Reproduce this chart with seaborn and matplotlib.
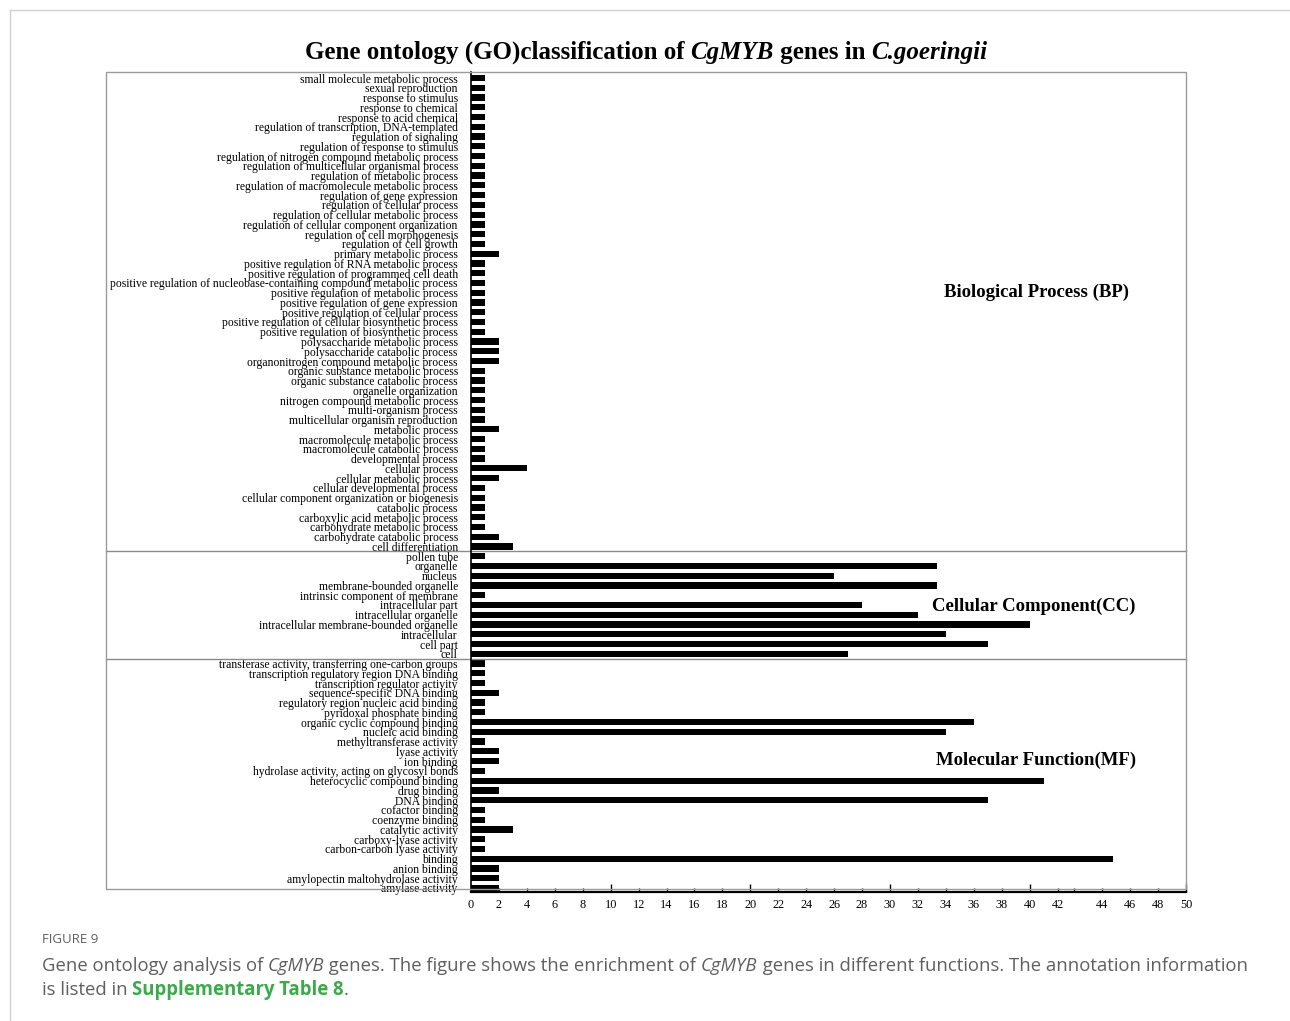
import matplotlib
matplotlib.use("Agg")
import matplotlib.pyplot as plt
import seaborn as sns
import pandas as pd
from matplotlib.lines import Line2D
from matplotlib.patches import Rectangle
from matplotlib.transforms import blended_transform_factory

# ---------------- data ----------------
bp_terms = [
    "small molecule metabolic process", "sexual reproduction", "response to stimulus",
    "response to chemical", "response to acid chemical",
    "regulation of transcription, DNA-templated", "regulation of signaling",
    "regulation of response to stimulus", "regulation of nitrogen compound metabolic process",
    "regulation of multicellular organismal process", "regulation of metabolic process",
    "regulation of macromolecule metabolic process", "regulation of gene expression",
    "regulation of cellular process", "regulation of cellular metabolic process",
    "regulation of cellular component organization", "regulation of cell morphogenesis",
    "regulation of cell growth", "primary metabolic process",
    "positive regulation of RNA metabolic process",
    "positive regulation of programmed cell death",
    "positive regulation of nucleobase-containing compound metabolic process",
    "positive regulation of metabolic process", "positive regulation of gene expression",
    "positive regulation of cellular process",
    "positive regulation of cellular biosynthetic process",
    "positive regulation of biosynthetic process", "polysaccharide metabolic process",
    "polysaccharide catabolic process", "organonitrogen compound metabolic process",
    "organic substance metabolic process", "organic substance catabolic process",
    "organelle organization", "nitrogen compound metabolic process",
    "multi-organism process", "multicellular organism reproduction", "metabolic process",
    "macromolecule metabolic process", "macromolecule catabolic process",
    "developmental process", "cellular process", "cellular metabolic process",
    "cellular developmental process", "cellular component organization or biogenesis",
    "catabolic process", "carboxylic acid metabolic process",
    "carbohydrate metabolic process", "carbohydrate catabolic process",
    "cell differentiation",
]
bp_counts = [1, 1, 1, 1, 1, 1, 1, 1, 1, 1, 1, 1, 1, 1, 1, 1, 1, 1, 2,
             1, 1, 1, 1, 1, 1, 1, 1, 2, 2, 2, 1, 1, 1, 1, 1, 1, 2,
             1, 1, 1, 4, 2, 1, 1, 1, 1, 1, 2, 3]

cc_terms = [
    "pollen tube", "organelle", "nucleus", "membrane-bounded organelle",
    "intrinsic component of membrane", "intracellular part", "intracellular organelle",
    "intracellular membrane-bounded organelle", "intracellular", "cell part", "cell",
]
cc_counts = [1, 33.4, 26, 33.4, 1, 28, 32, 40, 34, 37, 27]

mf_terms = [
    "transferase activity, transferring one-carbon groups",
    "transcription regulatory region DNA binding", "transcription regulator activity",
    "sequence-specific DNA binding", "regulatory region nucleic acid binding",
    "pyridoxal phosphate binding", "organic cyclic compound binding",
    "nucleic acid binding", "methyltransferase activity", "lyase activity", "ion binding",
    "hydrolase activity, acting on glycosyl bonds", "heterocyclic compound binding",
    "drug binding", "DNA binding", "cofactor binding", "coenzyme binding",
    "catalytic activity", "carboxy-lyase activity", "carbon-carbon lyase activity",
    "binding", "anion binding", "amylopectin maltohydrolase activity", "amylase activity",
]
mf_counts = [1, 1, 1, 2, 1, 1, 36, 34, 1, 2, 2, 1, 41, 2, 37, 1, 1, 3, 1, 1, 46, 2, 2, 2]

section_names = ["Biological Process (BP)", "Cellular Component(CC)", "Molecular Function(MF)"]

tick_values = [0, 2, 4, 6, 8, 10, 12, 14, 16, 18, 20, 22, 24, 26, 28, 30, 32, 34, 36,
               38, 40, 42, 44, 46, 48, 50]

# ---------------- table ----------------
df = pd.DataFrame({
    "term": bp_terms + cc_terms + mf_terms,
    "count": bp_counts + cc_counts + mf_counts,
    "group": ["BP"] * len(bp_terms) + ["CC"] * len(cc_terms) + ["MF"] * len(mf_terms),
})
order = list(df["term"])
n = len(order)

# ---------------- figure ----------------
W, H = 1290, 1021
fig = plt.figure(figsize=(W / 100, H / 100), dpi=100)
fig.patch.set_facecolor("white")


def fx(px):
    return px / W


def fy(py):
    return 1 - py / H


ax_left, ax_right, ax_top, ax_bottom = 471, 1186, 72, 892
ax = fig.add_axes([fx(ax_left), fy(ax_bottom), (ax_right - ax_left) / W,
                   (ax_bottom - ax_top) / H])

sns.barplot(data=df, x="count", y="term", order=order, orient="h",
            color="black", saturation=1, width=0.64, ax=ax, errorbar=None)

ax.set_xlim(0, 51.2)
ax.set_ylim(83.41, -0.615)
ax.set_xlabel("")
ax.set_ylabel("")
ax.set_facecolor("none")

# x-axis: the upper end of the scale carries shifted labels
tick_pos = [float(v) for v in tick_values[:22]] + [45.2, 47.2, 49.2, 51.2]
ax.set_xticks(tick_pos)
ax.set_xticklabels([str(v) for v in tick_values], fontfamily="Liberation Serif",
                   fontsize=8.8)
ax.set_xticks([43.2], minor=True)
ax.tick_params(axis="x", which="both", direction="in", length=3, width=1,
               color="black", pad=5)
ax.tick_params(axis="x", which="minor", labelbottom=False)
for t, v in zip(ax.xaxis.get_major_ticks(), tick_pos):
    if v in (10.0, 20.0, 30.0, 40.0, 51.2):
        t.tick1line.set_markersize(6)

ax.tick_params(axis="y", length=0, pad=9.5)
for lab in ax.get_yticklabels():
    lab.set_fontfamily("Liberation Serif")
    lab.set_fontsize(8.4)

for side in ("top", "right"):
    ax.spines[side].set_visible(False)
ax.spines["left"].set_color("black")
ax.spines["left"].set_linewidth(1.2)
ax.spines["bottom"].set_color("black")
ax.spines["bottom"].set_linewidth(1.6)

# gray frame enclosing labels and bars
frame_col = "#9a9a9a"
fig.add_artist(Rectangle((fx(106), fy(889)), (1186 - 106) / W, (889 - 72) / H,
                         transform=fig.transFigure, fill=False, edgecolor=frame_col,
                         linewidth=1.0))

# separators between the three ontology groups
sep_tr = blended_transform_factory(fig.transFigure, ax.transData)
n_bp, n_cc = len(bp_terms), len(cc_terms)
for yb in (n_bp - 0.5, n_bp + n_cc - 0.5):
    ax.add_line(Line2D([fx(106), fx(1186)], [yb, yb], transform=sep_tr,
                       color="#8a8a8a", linewidth=1.0, clip_on=False))

# group names
for name, (cx, cy) in zip(section_names, [(1037, 292), (1034, 606), (1036, 760)]):
    fig.text(fx(cx), fy(cy), name, ha="center", va="center",
             fontfamily="Liberation Serif", fontweight="bold", fontsize=13.5)


# ---------------- mixed-style text runs ----------------
def draw_runs(x_px, y_px, runs, ha="left", **common):
    renderer = fig.canvas.get_renderer()
    items = []
    total = 0.0
    for s, kw in runs:
        props = dict(common)
        props.update(kw)
        t = fig.text(0, 0, s, va="baseline", **props)
        w = t.get_window_extent(renderer).width
        items.append((t, w))
        total += w
    cur = x_px - (total / 2 if ha == "center" else 0)
    for t, w in items:
        t.set_position((fx(cur), fy(y_px)))
        cur += w


title_kw = dict(fontfamily="Liberation Serif", fontsize=18, fontweight="bold")
draw_runs(646, 59, [
    ("Gene ontology (GO)classification of\u00a0", {}),
    ("CgMYB", {"fontstyle": "italic"}),
    ("\u00a0genes in\u00a0", {}),
    ("C.goeringii", {"fontstyle": "italic"}),
], ha="center", **title_kw)

# ---------------- caption ----------------
cap_col = "#5f5f5f"
fig.text(fx(42), fy(943), "FIGURE 9", fontfamily="Open Sans", fontsize=9.5,
         color=cap_col, va="baseline")
cap_kw = dict(fontfamily="Open Sans", fontsize=13.35, color=cap_col)
draw_runs(42, 971, [
    ("Gene ontology analysis of\u00a0", {}),
    ("CgMYB", {"fontstyle": "italic"}),
    ("\u00a0genes. The figure shows the enrichment of\u00a0", {}),
    ("CgMYB", {"fontstyle": "italic"}),
    ("\u00a0genes in different functions. The annotation information", {}),
], **cap_kw)
draw_runs(42, 995, [
    ("is listed in\u00a0", {}),
    ("Supplementary Table 8", {"color": "#3aaa4a", "fontweight": "bold"}),
    (".", {}),
], **cap_kw)

# page border
fig.add_artist(Line2D([fx(10), fx(10)], [fy(10), fy(H)], transform=fig.transFigure,
                      color="#d0d0d0", linewidth=1.0))
fig.add_artist(Line2D([fx(10), fx(W)], [fy(10), fy(10)], transform=fig.transFigure,
                      color="#d0d0d0", linewidth=1.0))

fig.savefig("out.png", dpi=100, facecolor="white")
